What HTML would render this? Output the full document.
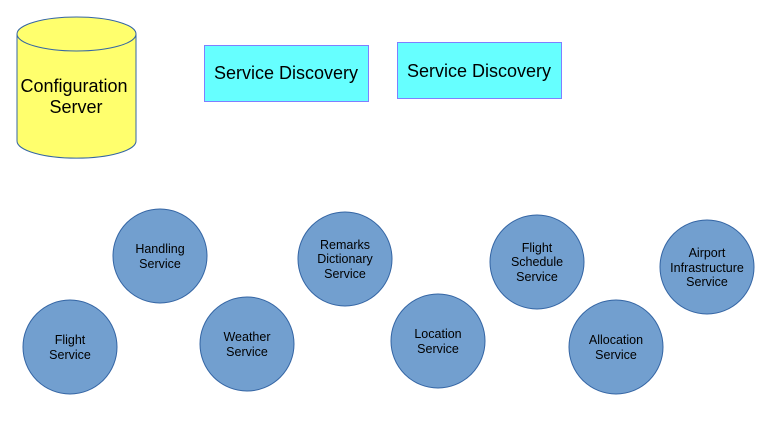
<!DOCTYPE html>
<html><head><meta charset="utf-8"><style>
html,body{margin:0;padding:0;background:#fff;}
svg{display:block;font-family:"Liberation Sans",sans-serif;}
</style></head><body>
<svg width="767" height="434" viewBox="0 0 767 434" xmlns="http://www.w3.org/2000/svg">
<path d="M17,34 L17,141 A59,17 0 0 0 136,141 L136,34" fill="#ffff6d" stroke="#3465a4" stroke-width="1"/>
<ellipse cx="76.5" cy="34" rx="59.5" ry="17" fill="#ffff6d" stroke="#3465a4" stroke-width="1"/>
<text x="74" y="92" font-size="18" text-anchor="middle">Configuration</text>
<text x="76" y="113" font-size="18" text-anchor="middle">Server</text>
<rect x="204.5" y="45.5" width="164" height="56" fill="#66ffff" stroke="#7f7fff"/>
<text x="286" y="79" font-size="18" text-anchor="middle">Service Discovery</text>
<rect x="397.5" y="42.5" width="164" height="56" fill="#66ffff" stroke="#7f7fff"/>
<text x="479" y="77" font-size="18" text-anchor="middle">Service Discovery</text>
<g fill="#729fcf" stroke="#3465a4" stroke-width="1">
<circle cx="160" cy="256" r="47"/>
<circle cx="70" cy="347" r="47"/>
<circle cx="247" cy="344" r="47"/>
<circle cx="345" cy="259" r="47"/>
<circle cx="438" cy="341" r="47"/>
<circle cx="537" cy="262" r="47"/>
<circle cx="616" cy="347" r="47"/>
<circle cx="707" cy="267" r="47"/>
</g>
<g font-size="12.5" text-anchor="middle" fill="#000">
<text x="160" y="253">Handling</text><text x="160" y="268">Service</text>
<text x="70" y="344">Flight</text><text x="70" y="359">Service</text>
<text x="247" y="341">Weather</text><text x="247" y="356">Service</text>
<text x="345" y="249">Remarks</text><text x="345" y="263">Dictionary</text><text x="345" y="278">Service</text>
<text x="438" y="338">Location</text><text x="438" y="353">Service</text>
<text x="537" y="252">Flight</text><text x="537" y="266">Schedule</text><text x="537" y="281">Service</text>
<text x="616" y="344">Allocation</text><text x="616" y="359">Service</text>
<text x="707" y="257">Airport</text><text x="707" y="272">Infrastructure</text><text x="707" y="286">Service</text>
</g>
</svg>
</body></html>
